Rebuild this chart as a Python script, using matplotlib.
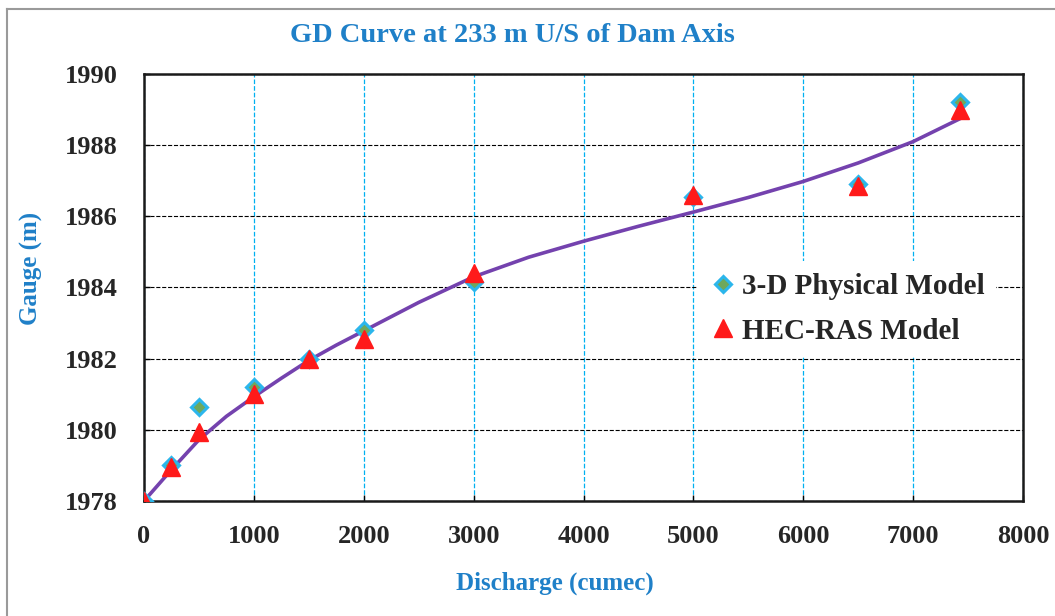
import numpy as np
import matplotlib.pyplot as plt
from matplotlib.lines import Line2D

# Discharge (cumec) and gauge (m)
q_phys = [0, 250, 500, 1000, 1500, 2000, 3000, 5000, 6500, 7430]
g_phys = [1978.0, 1979.0, 1980.65, 1981.2, 1982.0, 1982.8, 1984.15, 1986.55, 1986.9, 1989.2]

q_hec = [0, 250, 500, 1000, 1500, 2000, 3000, 5000, 6500, 7430]
g_hec = [1978.0, 1978.95, 1979.95, 1981.0, 1982.0, 1982.55, 1984.4, 1986.6, 1986.85, 1989.0]

# trend line
q_fit = [0, 250, 500, 750, 1000, 1250, 1500, 1750, 2000, 2500, 3000, 3500, 4000,
         4500, 5000, 5500, 6000, 6500, 7000, 7430]
g_fit = [1978.0, 1978.88, 1979.72, 1980.38, 1980.93, 1981.45, 1981.95, 1982.38,
         1982.78, 1983.58, 1984.3, 1984.85, 1985.3, 1985.72, 1986.12, 1986.53,
         1986.98, 1987.5, 1988.1, 1988.75]

xticks = [0, 1000, 2000, 3000, 4000, 5000, 6000, 7000, 8000]
yticks = [1978, 1980, 1982, 1984, 1986, 1988, 1990]

plt.rcParams['font.family'] = ['Liberation Serif', 'DejaVu Serif']
plt.rcParams['font.weight'] = 'bold'

blue = '#1F80C8'

fig = plt.figure(figsize=(10.55, 6.16), dpi=100)
ax = fig.add_axes([0.1365, 0.1867, 0.8332, 0.6932])

ax.plot(q_fit, g_fit, '-', color='#7442AE', lw=2.6, zorder=3)
ax.plot(q_phys, g_phys, 'D', ms=8, mfc='#6FA85C', mec='#2BB6EC', mew=2.2,
        ls='none', label='3-D Physical Model', zorder=4)
ax.plot(q_hec, g_hec, '^', ms=13, color='#FF1A1A', ls='none',
        label='HEC-RAS Model', zorder=5)

ax.set_xlim(0, 8000)
ax.set_ylim(1978, 1990)
ax.set_xticks(xticks)
ax.set_yticks(yticks)
ax.tick_params(direction='in', length=4, width=1, labelsize=19,
               labelcolor='#262626')
ax.tick_params(axis='y', pad=19)
ax.tick_params(axis='x', pad=17)

ax.xaxis.grid(True, color='#00B0F0', ls='--', lw=0.9)
ax.yaxis.grid(True, color='black', ls='--', lw=0.8)
ax.set_axisbelow(True)
for s in ax.spines.values():
    s.set_linewidth(1.8)
    s.set_color('#1a1a1a')

fig.text(0.486, 0.943, 'GD Curve at 233 m U/S of Dam Axis', color=blue,
         fontsize=20.5, fontweight='bold', ha='center', va='center')
fig.text(0.526, 0.053, 'Discharge (cumec)', color=blue, fontsize=18,
         fontweight='bold', ha='center', va='center')
fig.text(0.030, 0.565, 'Gauge (m)', color=blue, fontsize=18,
         fontweight='bold', ha='center', va='center', rotation=90)

leg = ax.legend(loc='center left', bbox_to_anchor=(0.612, 0.45),
                frameon=True, fontsize=21, handletextpad=0.15,
                handlelength=1.0, labelspacing=0.6, borderpad=0.4)
leg.get_frame().set_facecolor('white')
leg.get_frame().set_edgecolor('none')
leg.get_frame().set_alpha(1)
for t in leg.get_texts():
    t.set_color('#262626')

# outer frame
fig.add_artist(Line2D([7 / 1055, 7 / 1055], [0, 1 - 9 / 616], color='#9a9a9a', lw=1.5))
fig.add_artist(Line2D([7 / 1055, 1], [1 - 9 / 616, 1 - 9 / 616], color='#9a9a9a', lw=1.5))

fig.savefig('out.png', dpi=100)
